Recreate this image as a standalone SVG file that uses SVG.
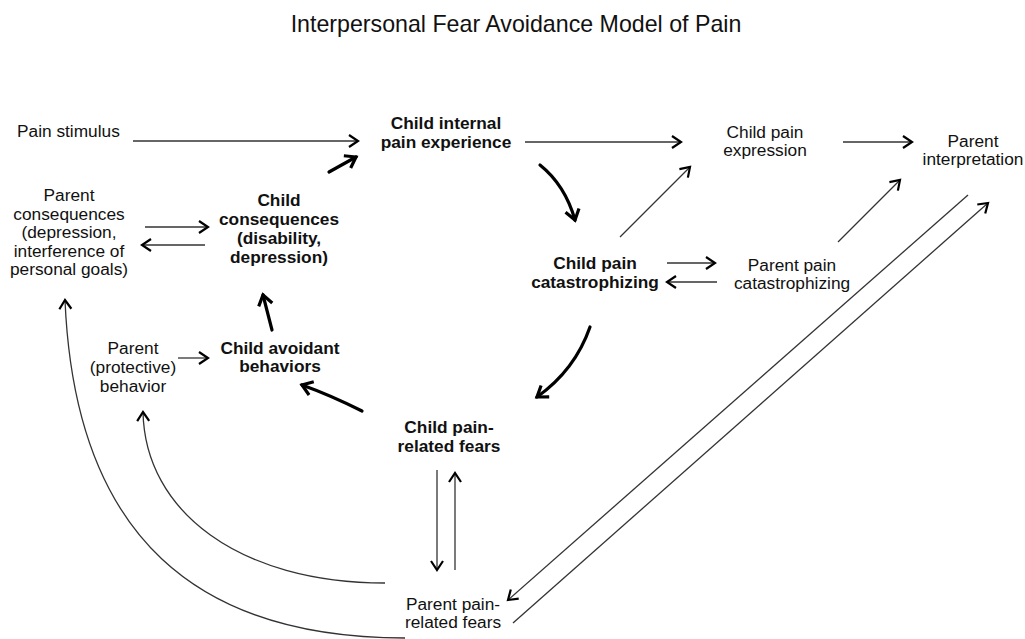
<svg xmlns="http://www.w3.org/2000/svg" width="1025" height="639" viewBox="0 0 1025 639">
<style>
text{font-family:"Liberation Sans",Arial,sans-serif;font-size:17.3px;fill:#111;text-anchor:middle}
.b{font-weight:bold}
.title{font-size:23.2px}
.l{text-anchor:start}
.thin{fill:none;stroke:#333;stroke-width:1.3;marker-end:url(#ah)}
.thick{fill:none;stroke:#000;stroke-width:3.2;stroke-linecap:round;marker-end:url(#ahb)}
</style>
<defs>
<marker id="ah" markerUnits="userSpaceOnUse" markerWidth="20" markerHeight="20" viewBox="-12 -10 14 20" refX="0" refY="0" orient="auto">
<path d="M-9,-6 L0,0 L-9,6" fill="none" stroke="#000" stroke-width="2.2" stroke-linejoin="miter"/>
</marker>
<marker id="ahb" markerUnits="userSpaceOnUse" markerWidth="24" markerHeight="24" viewBox="-14 -12 16 24" refX="0" refY="0" orient="auto">
<path d="M-10,-7 L0,0 L-10,7" fill="none" stroke="#000" stroke-width="3.2" stroke-linejoin="miter"/>
</marker>
</defs>
<rect width="1025" height="639" fill="#fff"/>
<text class="title" x="516" y="32">Interpersonal Fear Avoidance Model of Pain</text>

<g id="connectors">
<path class="thin" d="M133,141 L358,141"/>
<path class="thin" d="M525,142 L681,142"/>
<path class="thin" d="M843,142 L912,142"/>
<path class="thin" d="M620,237 L690,167"/>
<path class="thin" d="M667,263 L715,263"/>
<path class="thin" d="M717,282 L667,282"/>
<path class="thin" d="M838,242 L900,180"/>
<path class="thin" d="M968,195 L508,600"/>
<path class="thin" d="M513,623 L988,203"/>
<path class="thin" d="M145,227 L208,227"/>
<path class="thin" d="M205,245 L142,245"/>
<path class="thin" d="M178,358 L208,358"/>
<path class="thin" d="M437,470 L437,570"/>
<path class="thin" d="M455,570 L455,473"/>
<path class="thin" d="M385,583 C240,583 145,512 143,412"/>
<path class="thin" d="M405,638 C200,638 75,540 65,300"/>
<path class="thick" d="M329,172 L356,157"/>
<path class="thick" d="M540,165 Q565,185 575,220"/>
<path class="thick" d="M590,327 Q575,370 537,397"/>
<path class="thick" d="M362,411 Q330,395 302,385"/>
<path class="thick" d="M272,330 L263,295"/>
</g>

<g id="pain-stimulus"><text class="l" x="17" y="137">Pain stimulus</text></g>
<g id="child-internal"><text class="b" x="446" y="129">Child internal</text><text class="b" x="446" y="148">pain experience</text></g>
<g id="child-expression"><text x="765" y="138">Child pain</text><text x="765" y="156">expression</text></g>
<g id="parent-interpretation"><text x="973" y="147">Parent</text><text x="973" y="165">interpretation</text></g>
<g id="parent-consequences"><text x="69" y="201">Parent</text><text x="69" y="219.5">consequences</text><text x="69" y="238">(depression,</text><text x="69" y="256.5">interference of</text><text x="69" y="275">personal goals)</text></g>
<g id="child-consequences"><text class="b" x="279" y="206">Child</text><text class="b" x="279" y="225">consequences</text><text class="b" x="279" y="244">(disability,</text><text class="b" x="279" y="263">depression)</text></g>
<g id="parent-protective"><text x="133" y="354">Parent</text><text x="133" y="373">(protective)</text><text x="133" y="392">behavior</text></g>
<g id="child-avoidant"><text class="b" x="280" y="354">Child avoidant</text><text class="b" x="280" y="372">behaviors</text></g>
<g id="child-catastrophizing"><text class="b" x="595" y="269">Child pain</text><text class="b" x="595" y="288">catastrophizing</text></g>
<g id="parent-catastrophizing"><text x="792" y="271">Parent pain</text><text x="792" y="289">catastrophizing</text></g>
<g id="child-fears"><text class="b" x="449" y="433">Child pain-</text><text class="b" x="449" y="452">related fears</text></g>
<g id="parent-fears"><text x="453" y="610">Parent pain-</text><text x="453" y="628">related fears</text></g>
</svg>
